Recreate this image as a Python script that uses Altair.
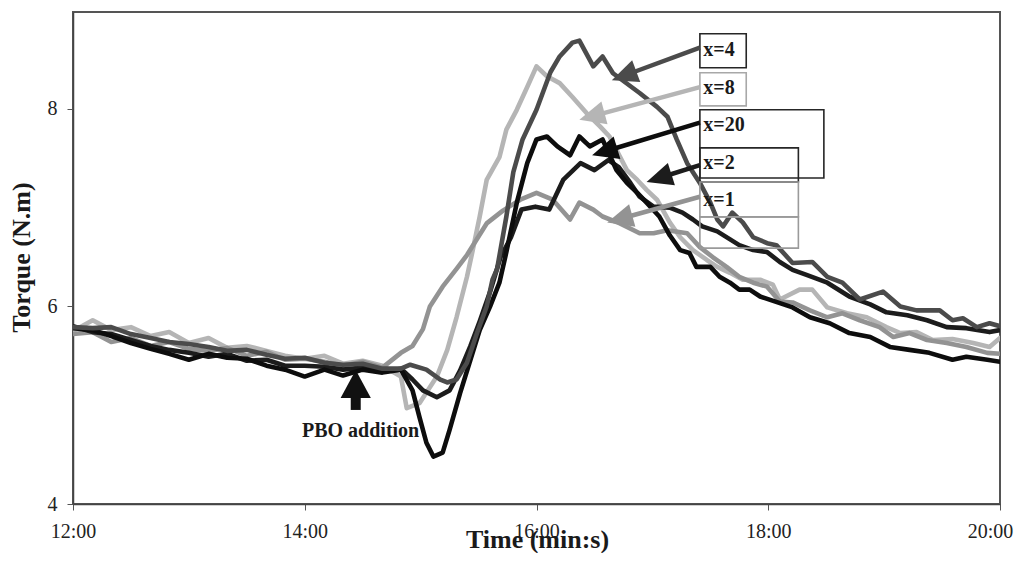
import altair as alt
import pandas as pd
import numpy as np

# ---------------- data: time in minutes, torque in N.m ----------------
base_t = [12.00, 12.17, 12.33, 12.50, 12.67, 12.83, 13.00, 13.17, 13.33,
          13.50, 13.67, 13.83, 14.00, 14.17, 14.33, 14.50, 14.67, 14.83]

x4_t = base_t + [14.91, 15.05, 15.17, 15.23, 15.31, 15.40, 15.49, 15.57, 15.62, 15.66, 15.74, 15.80, 15.88,
                 16.00, 16.12, 16.20, 16.31, 16.37, 16.49, 16.57, 16.66, 16.89,
                 17.04, 17.13, 17.21, 17.30, 17.41, 17.50, 17.56, 17.61, 17.69, 17.78, 17.87, 17.99,
                 18.07, 18.21, 18.38, 18.51, 18.64, 18.79, 18.99,
                 19.14, 19.28, 19.48, 19.59, 19.68, 19.80, 19.91, 20.00]
x4_v = [5.79, 5.78, 5.79, 5.72, 5.68, 5.64, 5.62, 5.59, 5.55, 5.56, 5.51, 5.47, 5.48, 5.43, 5.41, 5.42, 5.37, 5.37,
        5.41, 5.36, 5.26, 5.23, 5.26, 5.43, 5.74, 6.00, 6.27, 6.38, 6.91, 7.36, 7.69,
        7.99, 8.37, 8.53, 8.67, 8.69, 8.43, 8.53, 8.36, 8.16,
        8.02, 7.92, 7.69, 7.45, 7.25, 7.05, 6.88, 6.81, 6.95, 6.85, 6.70, 6.64,
        6.62, 6.44, 6.45, 6.30, 6.24, 6.07, 6.15,
        6.00, 5.96, 5.96, 5.86, 5.88, 5.79, 5.83, 5.80]

x8_t = base_t + [14.88, 14.99, 15.14, 15.23, 15.31, 15.40, 15.45, 15.51, 15.57, 15.68, 15.74, 15.83, 15.92,
                 16.00, 16.09, 16.20, 16.31, 16.43, 16.55, 16.63, 16.78, 16.87, 16.95,
                 17.04, 17.15, 17.24, 17.35, 17.47, 17.56, 17.67, 17.78, 17.93,
                 18.04, 18.10, 18.27, 18.38, 18.51, 18.68, 18.85,
                 19.02, 19.14, 19.28, 19.42, 19.59, 19.77, 19.91, 20.00]
x8_v = [5.75, 5.86, 5.76, 5.79, 5.70, 5.74, 5.63, 5.68, 5.58, 5.60, 5.55, 5.50, 5.47, 5.50, 5.42, 5.45, 5.40, 5.29,
        4.97, 5.02, 5.29, 5.56, 5.89, 6.30, 6.57, 6.91, 7.28, 7.51, 7.79, 7.99, 8.22,
        8.43, 8.33, 8.26, 8.12, 7.96, 7.82, 7.72, 7.38, 7.28, 7.18,
        7.08, 6.85, 6.70, 6.57, 6.47, 6.40, 6.34, 6.27, 6.27,
        6.22, 6.07, 6.17, 6.17, 5.99, 5.93, 5.89,
        5.79, 5.73, 5.74, 5.66, 5.67, 5.63, 5.59, 5.68]

x1_t = base_t + [14.93, 15.02, 15.08, 15.19, 15.31, 15.40, 15.57, 15.71, 15.86,
                 16.00, 16.14, 16.29, 16.37, 16.49, 16.57, 16.72, 16.89,
                 17.01, 17.13, 17.30, 17.41, 17.52, 17.64, 17.75, 17.87, 17.99,
                 18.10, 18.21, 18.36, 18.51, 18.64, 18.79, 18.96,
                 19.08, 19.22, 19.37, 19.54, 19.71, 19.89, 20.00]
x1_v = [5.72, 5.74, 5.64, 5.68, 5.60, 5.64, 5.57, 5.55, 5.58, 5.50, 5.54, 5.46, 5.47, 5.44, 5.40, 5.44, 5.38, 5.53,
        5.60, 5.77, 6.00, 6.20, 6.38, 6.52, 6.84, 6.97, 7.08,
        7.15, 7.08, 6.88, 7.05, 6.98, 6.91, 6.84, 6.74,
        6.74, 6.77, 6.74, 6.60, 6.50, 6.40, 6.30, 6.24, 6.20,
        6.05, 6.04, 5.96, 5.89, 5.93, 5.86, 5.79,
        5.69, 5.73, 5.66, 5.63, 5.59, 5.53, 5.52]

x20_t = base_t + [14.93, 14.99, 15.05, 15.11, 15.19, 15.25, 15.34, 15.43, 15.51, 15.60, 15.68, 15.74, 15.83, 15.92,
                  16.00, 16.09, 16.18, 16.29, 16.37, 16.46, 16.57, 16.69, 16.78, 16.87, 16.95,
                  17.06, 17.15, 17.24, 17.32, 17.38, 17.50, 17.58, 17.67, 17.75, 17.84, 17.93,
                  18.21, 18.36, 18.53, 18.70, 18.88,
                  19.05, 19.22, 19.39, 19.59, 19.71, 19.89, 20.00]
x20_v = [5.78, 5.76, 5.70, 5.63, 5.57, 5.52, 5.46, 5.52, 5.48, 5.47, 5.40, 5.36, 5.29, 5.36, 5.30, 5.36, 5.33, 5.36,
         5.15, 4.88, 4.62, 4.48, 4.52, 4.75, 5.12, 5.46, 5.76, 6.00, 6.24, 6.55, 7.05, 7.45,
         7.69, 7.72, 7.62, 7.53, 7.72, 7.62, 7.69, 7.38, 7.25, 7.15, 7.05,
         6.91, 6.72, 6.57, 6.54, 6.40, 6.40, 6.30, 6.24, 6.17, 6.17, 6.10,
         5.99, 5.89, 5.83, 5.73, 5.69,
         5.59, 5.56, 5.53, 5.46, 5.49, 5.46, 5.44]

x2_t = base_t + [14.93, 15.02, 15.14, 15.25, 15.34, 15.43, 15.51, 15.60, 15.69, 15.78, 15.87, 15.99,
                 16.11, 16.23, 16.38, 16.50, 16.62, 16.71, 16.81, 16.89,
                 17.01, 17.15, 17.26, 17.35, 17.43, 17.56, 17.75, 17.87, 17.99,
                 18.10, 18.21, 18.33, 18.51, 18.70, 18.88,
                 19.02, 19.20, 19.37, 19.54, 19.71, 19.91, 20.00]
x2_v = [5.80, 5.74, 5.72, 5.66, 5.60, 5.56, 5.53, 5.49, 5.52, 5.45, 5.46, 5.40, 5.40, 5.39, 5.36, 5.38, 5.34, 5.37,
        5.26, 5.15, 5.08, 5.15, 5.35, 5.60, 5.85, 6.15, 6.50, 6.70, 6.98, 7.01,
        6.98, 7.28, 7.45, 7.38, 7.48, 7.41, 7.25, 7.11,
        7.01, 7.00, 6.95, 6.88, 6.81, 6.76, 6.62, 6.57, 6.55,
        6.45, 6.37, 6.32, 6.24, 6.10, 6.02,
        5.94, 5.91, 5.86, 5.79, 5.78, 5.74, 5.76]

# annotation boxes (label boxes at the right of the peaks)
box_label = ["x=4", "x=8", "x=20", "x=2", "x=1", ""]
box_t1 = [17.41, 17.41, 17.41, 17.41, 17.41, 17.41]
box_t2 = [17.81, 17.81, 18.48, 18.26, 18.26, 18.26]
box_v1 = [8.76, 8.365, 7.99, 7.605, 7.26, 6.906]
box_v2 = [8.415, 8.03, 7.30, 7.26, 6.906, 6.59]
box_stroke = ["#262626", "#a8a8a8", "#262626", "#262626", "#9a9a9a", "#9a9a9a"]

lab_text = ["x=4", "x=8", "x=20", "x=2", "x=1"]
lab_t = [17.44, 17.44, 17.44, 17.44, 17.44]
lab_v = [8.60, 8.21, 7.84, 7.45, 7.08]

arr_start_t = [17.41, 17.41, 17.41, 17.41, 17.41]
arr_start_v = [8.62, 8.22, 7.86, 7.43, 7.11]
arr_tip_t = [16.65, 16.37, 16.48, 16.95, 16.61]
arr_tip_v = [8.29, 7.89, 7.53, 7.26, 6.85]
arr_color = ["#4b4b4b", "#b5b5b5", "#0d0d0d", "#1c1c1c", "#939393"]

pbo_t = [14.44]
pbo_tip_v = [5.357]
pbo_base_v = [5.073]
pbo_tail_v = [4.952]
pbo_text_t = [13.976]
pbo_text_v = [4.68]

# ---------------- geometry helpers ----------------
W, H = 927, 492
XD, YD = [12, 20], [4, 8.98]
sx = W / (XD[1] - XD[0])
sy = H / (YD[1] - YD[0])
HEAD = 26.0

ang, end_t, end_v = [], [], []
for st, sv, tt, tv in zip(arr_start_t, arr_start_v, arr_tip_t, arr_tip_v):
    dx = (tt - st) * sx
    dy = -(tv - sv) * sy
    L = np.hypot(dx, dy)
    ux, uy = dx / L, dy / L
    ang.append(float(np.degrees(np.arctan2(dx, -dy)) % 360))
    end_t.append(tt - 0.6 * HEAD * ux / sx)
    end_v.append(tv + 0.6 * HEAD * uy / sy)

FONT = "Liberation Serif"
xs = alt.Scale(domain=XD, nice=False, zero=False)
ys = alt.Scale(domain=YD, nice=False, zero=False)

xaxis = alt.Axis(values=[12, 14, 16, 18, 20], labelExpr="datum.value + ':00'",
                 title="Time (min:s)", grid=False, tickSize=6, tickColor="#555",
                 labelPadding=27, labelBaseline="alphabetic", labelFont=FONT, labelFontSize=20,
                 labelColor="#222", labelFlush=False, labelAlign="center",
                 labelOffset={"condition": {"test": "datum.value == 20", "value": -10}, "value": 0},
                 titleFont=FONT, titleFontSize=26, titleFontWeight="bold", titleColor="#1a1a1a",
                 titleX=464, titleY=43, titleBaseline="alphabetic", titleAlign="center",
                 domainColor="#444", domainWidth=1.5)
yaxis = alt.Axis(values=[4, 6, 8], title="Torque (N.m)", grid=False, tickSize=6, tickColor="#555",
                 labelPadding=10, labelFont=FONT, labelFontSize=20, labelColor="#222", labelFlush=False,
                 titleFont=FONT, titleFontSize=26, titleFontWeight="bold", titleColor="#1a1a1a",
                 titleX=-44, titleY=245, titleAngle=270, titleBaseline="alphabetic", titleAlign="center",
                 domainColor="#444", domainWidth=1.5)

X = lambda f: alt.X(f, type="quantitative", scale=xs, axis=xaxis)
Y = lambda f: alt.Y(f, type="quantitative", scale=ys, axis=yaxis)

layers = []

# PBO addition label and arrow (under the curves)
pbo_df = pd.DataFrame({"t": pbo_t, "tip": pbo_tip_v, "base": pbo_base_v, "tail": pbo_tail_v,
                       "tt": pbo_text_t, "tv": pbo_text_v, "txt": ["PBO addition"]})
layers.append(alt.Chart(pbo_df).mark_text(align="left", baseline="alphabetic", font=FONT, fontSize=20,
                                          fontWeight="bold", color="#1a1a1a")
              .encode(x=X("tt"), y=Y("tv"), text="txt:N"))
layers.append(alt.Chart(pbo_df).mark_rule(color="#111", strokeWidth=10)
              .encode(x=X("t"), y=Y("base"), y2="tail"))
layers.append(alt.Chart(pbo_df).mark_point(shape="M0,0L0.54,1L-0.54,1Z", filled=True, size=3136,
                                           color="#111", opacity=1, strokeWidth=0)
              .encode(x=X("t"), y=Y("tip")))

# the five curves
series = [("x=8", x8_t, x8_v, "#b5b5b5"),
          ("x=1", x1_t, x1_v, "#939393"),
          ("x=2", x2_t, x2_v, "#1c1c1c"),
          ("x=20", x20_t, x20_v, "#0d0d0d"),
          ("x=4", x4_t, x4_v, "#4b4b4b")]
for name, tt, vv, col in series:
    df = pd.DataFrame({"t": tt, "v": vv, "i": range(len(tt)), "series": name})
    layers.append(alt.Chart(df).mark_line(color=col, strokeWidth=4.6, strokeJoin="round",
                                          strokeCap="round", clip=True)
                  .encode(x=X("t"), y=Y("v"), order="i:Q"))

# boxes
box_df = pd.DataFrame({"t1": box_t1, "t2": box_t2, "v1": box_v1, "v2": box_v2,
                       "col": box_stroke, "label": box_label})
layers.append(alt.Chart(box_df).mark_rect(fillOpacity=0, strokeWidth=1.6)
              .encode(x=X("t1"), x2="t2", y=Y("v1"), y2="v2",
                      stroke=alt.Stroke("col:N", scale=None)))

# arrows
arr_df = pd.DataFrame({"st": arr_start_t, "sv": arr_start_v, "et": end_t, "ev": end_v,
                       "tt": arr_tip_t, "tv": arr_tip_v, "ang": ang, "col": arr_color})
layers.append(alt.Chart(arr_df).mark_rule(strokeWidth=4.5)
              .encode(x=X("st"), y=Y("sv"), x2="et", y2="ev",
                      color=alt.Color("col:N", scale=None)))
layers.append(alt.Chart(arr_df).mark_point(shape="M0,0L0.45,1L-0.45,1Z", filled=True,
                                           size=(2 * HEAD) ** 2, opacity=1, strokeWidth=0)
              .encode(x=X("tt"), y=Y("tv"), angle=alt.Angle("ang:Q", scale=None),
                      color=alt.Color("col:N", scale=None)))

# box labels
lab_df = pd.DataFrame({"t": lab_t, "v": lab_v, "txt": lab_text})
layers.append(alt.Chart(lab_df).mark_text(align="left", baseline="middle", font=FONT, fontSize=20,
                                          fontWeight="bold", color="#1a1a1a")
              .encode(x=X("t"), y=Y("v"), text="txt:N"))

chart = (alt.layer(*layers)
         .properties(width=W, height=H, padding={"left": 65, "top": 4, "right": 15, "bottom": 49},
                     autosize=alt.AutoSizeParams(type="none"), background="white")
         .configure_view(stroke="#555", strokeWidth=2))

chart.save("out.html", embed_options={"renderer": "svg", "actions": False})
